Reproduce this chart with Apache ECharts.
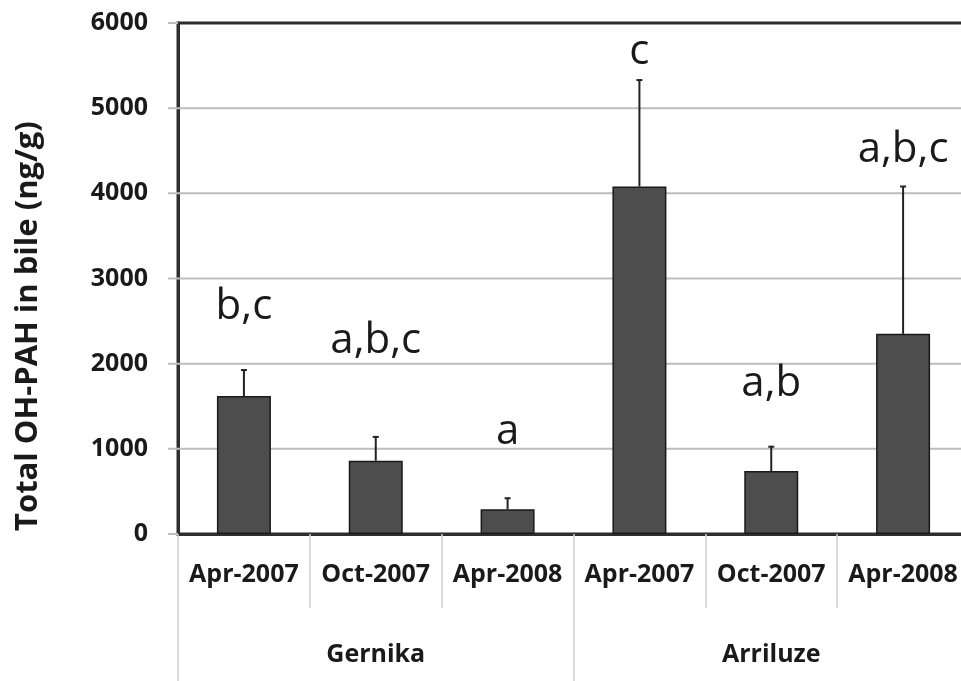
<!DOCTYPE html>
<html>
<head>
<meta charset="utf-8">
<script src="https://cdn.jsdelivr.net/npm/echarts@6/dist/echarts.min.js"></script>
<style>
  html, body { margin: 0; padding: 0; background: #fff; }
  #chart { width: 961px; height: 681px; }
</style>
</head>
<body>
<div id="chart"></div>
<script>
// sampling dates per site
const dates = ["Apr-2007", "Oct-2007", "Apr-2008", "Apr-2007", "Oct-2007", "Apr-2008"];
const sites = ["Gernika", "Arriluze"];
// mean total OH-PAH (ng/g) and top of error bar
const means = [1620, 860, 290, 4080, 740, 2350];
const errTops = [1925, 1140, 420, 5330, 1025, 4080];
// significance letters and the height they sit at
const letters = ["b,c", "a,b,c", "a", "c", "a,b", "a,b,c"];
const letterY = [2660, 2270, 1200, 5660, 1760, 4510];
const yTickValues = [0, 1000, 2000, 3000, 4000, 5000, 6000];

const font = "Open Sans";
const chart = echarts.init(document.getElementById("chart"));

let option = {
  backgroundColor: "#fff",
  animation: false,
  grid: {
    left: 178, top: 23, bottom: 147, right: -8,
    outerBoundsMode: "none",
    containLabel: false,
    show: true, borderColor: "#2e2e2e", borderWidth: 3
  },
  graphic: [{
    type: "text",
    rotation: Math.PI / 2,
    position: [13, 531],
    style: {
      text: "Total OH-PAH in bile (ng/g)",
      font: "bold 31px 'Open Sans'",
      fill: "#1a1a1a"
    }
  }],
  xAxis: [
    {
      type: "category",
      data: dates,
      position: "bottom",
      axisLine: { show: true, lineStyle: { color: "#2e2e2e", width: 3 } },
      axisTick: { show: true, length: 74, interval: 0, lineStyle: { color: "#d0d0d0", width: 1.5 } },
      axisLabel: { interval: 0, margin: 28, color: "#1a1a1a", fontFamily: font, fontWeight: "bold", fontSize: 25 }
    },
    {
      type: "category",
      data: sites,
      position: "bottom",
      axisLine: { show: false },
      axisTick: { show: true, length: 147, interval: 0, lineStyle: { color: "#d0d0d0", width: 1.5 } },
      axisLabel: { interval: 0, margin: 108, color: "#1a1a1a", fontFamily: font, fontWeight: "bold", fontSize: 25 }
    }
  ],
  yAxis: {
    type: "value",
    min: 0, max: 6000, splitNumber: 6,
    axisLine: { show: true, lineStyle: { color: "#2e2e2e", width: 3 } },
    axisTick: { show: false },
    axisLabel: {
      margin: 30, color: "#1a1a1a", fontFamily: font, fontWeight: "bold", fontSize: 25,
      formatter: v => String(v)
    },
    splitLine: { show: false }
  },
  series: [
    {
      // horizontal gridlines with their little stubs left of the axis
      type: "custom",
      data: yTickValues.map(v => [0, v]),
      silent: true,
      clip: false,
      renderItem: function (params, api) {
        let p = api.coord([0, api.value(1)]);
        let cs = params.coordSys;
        let edge = Math.abs(p[1] - cs.y) < 1 || Math.abs(p[1] - cs.y - cs.height) < 1;
        return {
          type: "line",
          shape: { x1: cs.x - 10, y1: p[1], x2: edge ? cs.x : cs.x + cs.width, y2: p[1] },
          style: { stroke: "#bdbdbd", lineWidth: 2 }
        };
      },
      z: 1
    },
    {
      type: "bar",
      data: means,
      barWidth: 54,
      itemStyle: { color: "#4d4d4d", borderColor: "#1a1a1a", borderWidth: 1.5 },
      z: 2
    },
    {
      type: "custom",
      data: means.map((m, i) => [i, m, errTops[i]]),
      renderItem: function (params, api) {
        let base = api.coord([api.value(0), api.value(1)]);
        let top = api.coord([api.value(0), api.value(2)]);
        return {
          type: "group",
          children: [
            { type: "line", shape: { x1: base[0], y1: base[1], x2: top[0], y2: top[1] },
              style: { stroke: "#222", lineWidth: 2 } },
            { type: "line", shape: { x1: top[0] - 3, y1: top[1], x2: top[0] + 3, y2: top[1] },
              style: { stroke: "#222", lineWidth: 2 } }
          ]
        };
      },
      z: 3
    },
    {
      type: "scatter",
      data: letterY.map((y, i) => [i, y]),
      symbolSize: 0,
      itemStyle: { opacity: 1 },
      label: {
        show: true,
        position: "inside",
        formatter: p => letters[p.dataIndex],
        color: "#1a1a1a",
        opacity: 1,
        fontFamily: font,
        fontSize: 42
      },
      z: 4
    }
  ]
};

chart.setOption(option);
</script>
</body>
</html>
